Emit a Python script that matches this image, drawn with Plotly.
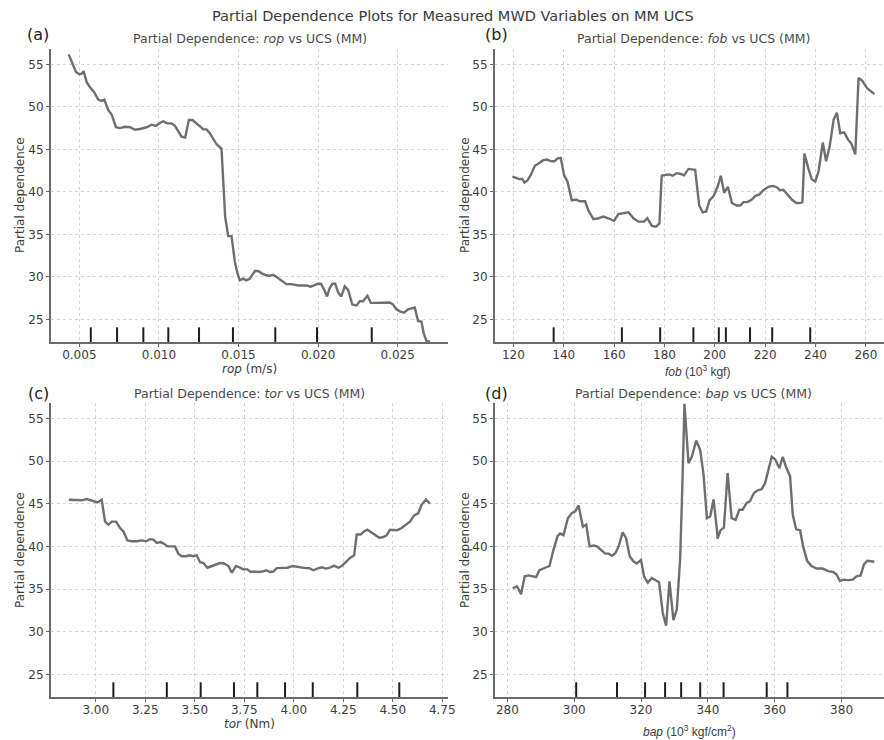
import plotly.graph_objects as go

# ---------------- data ----------------
rop_x = [0.00433, 0.00462, 0.00479, 0.00500, 0.00515, 0.00527, 0.00546, 0.00567, 0.00592, 0.00619,
         0.00640, 0.00657, 0.00682, 0.00703, 0.00730, 0.00755, 0.00787, 0.00818, 0.00849, 0.00881,
         0.00923, 0.00954, 0.00981, 0.01006, 0.01027, 0.01052, 0.01079, 0.01100, 0.01121, 0.01142,
         0.01165, 0.01188, 0.01211, 0.01236, 0.01262, 0.01278, 0.01299, 0.01320, 0.01341, 0.01362,
         0.01393, 0.01404, 0.01416, 0.01435, 0.01456, 0.01477, 0.01492, 0.01508, 0.01529, 0.01550,
         0.01571, 0.01603, 0.01623, 0.01644, 0.01672, 0.01697, 0.01718, 0.01739, 0.01759, 0.01780,
         0.01801, 0.01833, 0.01874, 0.01927, 0.01952, 0.01975, 0.02000, 0.02017, 0.02036, 0.02056,
         0.02073, 0.02090, 0.02107, 0.02128, 0.02146, 0.02167, 0.02188, 0.02215, 0.02241, 0.02262,
         0.02282, 0.02310, 0.02331, 0.02356, 0.02387, 0.02418, 0.02450, 0.02471, 0.02492, 0.02513,
         0.02540, 0.02565, 0.02607, 0.02628, 0.02649, 0.02663, 0.02680, 0.02703]
rop_pd = [56.17, 54.9, 54.1, 53.83, 53.9, 54.2, 52.9, 52.3, 51.75, 50.85,
          50.7, 50.85, 49.6, 49.1, 47.6, 47.5, 47.65, 47.6, 47.3, 47.4,
          47.6, 47.9, 47.75, 48.1, 48.3, 48.05, 48.05, 47.8, 47.1, 46.5,
          46.4, 48.45, 48.45, 48.1, 47.65, 47.35, 47.35, 46.9, 46.2, 45.6,
          45.1, 41.4, 37.1, 34.8, 34.8, 31.8, 30.5, 29.6, 29.8, 29.6,
          29.8, 30.7, 30.7, 30.45, 30.2, 30.15, 30.25, 30.0, 29.75, 29.4,
          29.15, 29.15, 29.0, 29.0, 28.85, 29.0, 29.2, 29.2, 28.6, 27.7,
          28.7, 29.2, 29.2, 28.1, 27.7, 28.9, 28.5, 26.75, 26.65, 27.15,
          27.15, 27.8, 26.95, 26.95, 26.95, 27.0, 27.0, 26.75, 26.2, 25.95,
          25.8, 26.2, 26.4, 24.8, 24.75, 23.4, 22.5, 22.4]
rop_deciles = [0.00572, 0.00737, 0.00902, 0.01059, 0.01252, 0.01465, 0.01731, 0.01993, 0.02337]

fob_x = [119.6, 121.1, 122.4, 123.4, 124.4, 125.6, 126.9, 128.6, 129.9, 131.7,
         133.2, 135.2, 136.3, 137.6, 138.8, 140.1, 141.5, 143.2, 144.9, 146.5,
         148.5, 149.8, 151.8, 153.8, 155.8, 157.7, 160.0, 161.7, 163.7, 165.7,
         167.7, 169.7, 171.9, 173.2, 175.0, 176.6, 178.0, 178.9, 180.3, 181.9,
         183.2, 184.9, 186.5, 187.8, 189.5, 191.3, 192.2, 193.8, 195.2, 196.6,
         197.9, 199.5, 201.1, 202.4, 203.7, 205.2, 206.8, 208.7, 210.1, 211.4,
         213.0, 214.7, 216.0, 217.7, 219.3, 221.3, 223.0, 224.6, 225.9, 227.2,
         228.9, 230.6, 232.3, 233.9, 234.8, 235.6, 237.2, 238.5, 239.9, 241.2,
         242.9, 244.2, 245.6, 247.2, 248.5, 249.8, 251.4, 252.8, 254.2, 255.8,
         257.1, 258.5, 260.5, 263.4]
fob_pd = [41.8, 41.6, 41.5, 41.55, 41.1, 41.35, 42.0, 43.1, 43.3, 43.7,
          43.8, 43.6, 43.6, 43.95, 44.0, 42.0, 41.2, 39.0, 39.1, 38.9,
          38.9, 37.8, 36.8, 36.9, 37.1, 36.9, 36.6, 37.4, 37.5, 37.6,
          36.9, 36.5, 36.5, 36.9, 36.0, 35.9, 36.3, 41.9, 42.0, 42.05,
          41.9, 42.2, 42.1, 41.95, 42.7, 42.6, 42.6, 38.4, 37.6, 37.7,
          39.0, 39.5, 40.6, 41.9, 39.9, 40.6, 38.7, 38.4, 38.4, 38.8,
          38.8, 39.1, 39.5, 39.7, 40.2, 40.6, 40.7, 40.55, 40.2, 40.25,
          39.7, 39.1, 38.7, 38.7, 38.8, 44.5, 42.7, 41.5, 41.2, 42.4,
          45.8, 43.6, 45.3, 48.5, 49.3, 46.9, 47.0, 46.2, 45.7, 44.4,
          53.4, 53.1, 52.2, 51.5]
fob_deciles = [136.0, 163.1, 178.3, 191.5, 201.6, 204.4, 214.0, 222.8, 237.9]

tor_x = [2.864, 2.887, 2.912, 2.929, 2.955, 2.971, 2.988, 3.008, 3.030, 3.047,
         3.064, 3.081, 3.103, 3.123, 3.140, 3.160, 3.182, 3.207, 3.232, 3.254,
         3.274, 3.291, 3.308, 3.328, 3.345, 3.362, 3.384, 3.400, 3.417, 3.434,
         3.456, 3.473, 3.493, 3.510, 3.527, 3.544, 3.564, 3.586, 3.606, 3.628,
         3.648, 3.670, 3.687, 3.708, 3.725, 3.745, 3.766, 3.782, 3.801, 3.821,
         3.843, 3.860, 3.880, 3.897, 3.914, 3.939, 3.968, 3.993, 4.018, 4.040,
         4.060, 4.079, 4.099, 4.119, 4.141, 4.163, 4.183, 4.203, 4.225, 4.242,
         4.264, 4.284, 4.305, 4.318, 4.338, 4.355, 4.372, 4.393, 4.410, 4.432,
         4.452, 4.469, 4.486, 4.506, 4.523, 4.545, 4.567, 4.587, 4.607, 4.629,
         4.646, 4.668, 4.688]
tor_pd = [45.47, 45.47, 45.47, 45.4, 45.55, 45.47, 45.3, 45.15, 45.47, 42.9,
          42.55, 42.9, 42.9, 42.15, 41.75, 40.7, 40.6, 40.6, 40.7, 40.6,
          40.85, 40.8, 40.4, 40.5, 40.3, 40.0, 40.0, 40.0, 39.15, 38.85,
          38.85, 38.95, 38.85, 38.95, 38.15, 38.05, 37.5, 37.7, 37.9, 38.05,
          38.0, 37.7, 36.9, 37.7, 37.55, 37.3, 37.3, 37.0, 37.05, 37.0,
          37.05, 37.2, 37.0, 37.05, 37.45, 37.5, 37.5, 37.7, 37.6, 37.6,
          37.45, 37.45, 37.2, 37.4, 37.55, 37.4, 37.5, 37.75, 37.5, 37.7,
          38.25, 38.65, 38.95, 41.4, 41.4, 41.75, 41.95, 41.6, 41.3, 41.0,
          41.1, 41.3, 41.95, 41.95, 41.9, 42.15, 42.55, 42.9, 43.6, 43.9,
          44.9, 45.5, 45.0]
tor_deciles = [3.089, 3.359, 3.530, 3.698, 3.816, 3.956, 4.096, 4.321, 4.533]

bap_x = [281.6, 282.9, 284.1, 285.2, 286.4, 287.9, 288.6, 289.6, 290.9, 292.6,
         293.8, 295.0, 295.8, 296.8, 298.1, 299.3, 300.3, 301.3, 302.6, 303.6,
         304.6, 305.8, 306.8, 308.0, 309.3, 310.3, 311.3, 312.3, 313.3, 314.5,
         315.5, 316.6, 317.7, 318.7, 320.0, 320.9, 322.0, 323.2, 324.2, 325.4,
         326.5, 327.5, 328.5, 329.7, 330.7, 331.7, 332.3, 333.0, 334.2, 335.2,
         336.5, 337.7, 338.7, 339.7, 340.7, 341.7, 342.7, 342.9, 343.8, 344.8,
         345.9, 347.1, 348.3, 349.4, 350.4, 351.6, 352.6, 353.8, 354.8, 356.1,
         357.1, 358.1, 359.1, 360.1, 361.4, 362.4, 363.4, 364.6, 365.4, 366.4,
         367.6, 368.5, 369.7, 371.0, 372.5, 374.3, 376.0, 377.5, 378.5, 379.5,
         380.7, 382.0, 383.3, 384.5, 385.7, 386.7, 387.7, 388.8, 389.8]
bap_pd = [35.1, 35.3, 34.4, 36.5, 36.6, 36.5, 36.4, 37.2, 37.4, 37.7,
          39.6, 41.2, 41.5, 41.3, 43.3, 43.9, 44.1, 44.8, 42.3, 42.55,
          40.0, 40.1, 40.0, 39.55, 39.15, 39.15, 38.9, 39.2, 40.0, 41.65,
          41.0, 38.85, 38.25, 38.0, 38.4, 36.5, 35.75, 36.3, 36.05, 35.8,
          32.2, 30.7, 35.9, 31.35, 32.6, 38.5, 46.25, 56.7, 49.75, 50.5,
          52.4, 51.3, 48.4, 43.3, 43.5, 45.5, 42.0, 40.9, 41.9, 42.2,
          48.6, 43.3, 43.1, 44.3, 44.3, 45.1, 45.3, 46.25, 46.55, 46.7,
          47.4, 49.0, 50.5, 50.2, 49.15, 50.5, 49.3, 48.2, 43.7, 42.0,
          41.9, 40.0, 38.3, 37.7, 37.4, 37.4, 37.1, 37.0, 36.7, 35.95,
          36.1, 36.05, 36.1, 36.5, 36.6, 37.9, 38.3, 38.25, 38.2]
bap_deciles = [300.6, 312.8, 321.2, 327.2, 332.0, 337.7, 344.7, 357.6, 363.8]

y_ticks = [25, 30, 35, 40, 45, 50, 55]
y_range = [22.35, 56.8]

panel_tags = ["(a)", "(b)", "(c)", "(d)"]
panel_titles = ["Partial Dependence: <i>rop</i> vs UCS (MM)",
                "Partial Dependence: <i>fob</i> vs UCS (MM)",
                "Partial Dependence: <i>tor</i> vs UCS (MM)",
                "Partial Dependence: <i>bap</i> vs UCS (MM)"]
x_titles = ["<i>rop</i> (m/s)",
            "<i>fob</i> (10<sup>3</sup> kgf)",
            "<i>tor</i> (Nm)",
            "<i>bap</i> (10<sup>3</sup> kgf/cm<sup>2</sup>)"]
main_title = "Partial Dependence Plots for Measured MWD Variables on MM UCS"

# ---------------- layout helpers ----------------
W, H = 884, 740
FONT = "DejaVu Sans, Verdana, sans-serif"
TXT = "#3d3d3d"


def px(x):
    return x / W


def py(y):
    return 1 - y / H


# axes boxes in pixels: (left, right, top, bottom)
boxes = [(51, 448, 49, 342), (495, 884, 49, 342),
         (51, 448, 403, 697), (495, 884, 403, 697)]
x_ranges = [[0.00322, 0.02816], [112.7, 267.2], [2.774, 4.779], [276.3, 392.7]]
x_ticks = [[0.005, 0.010, 0.015, 0.020, 0.025],
           [120, 140, 160, 180, 200, 220, 240, 260],
           [3.00, 3.25, 3.50, 3.75, 4.00, 4.25, 4.50, 4.75],
           [280, 300, 320, 340, 360, 380]]
tick_fmt = [".3f", "d", ".2f", "d"]

series = [(rop_x, rop_pd, rop_deciles), (fob_x, fob_pd, fob_deciles),
          (tor_x, tor_pd, tor_deciles), (bap_x, bap_pd, bap_deciles)]

fig = go.Figure()
shapes = []
annotations = []

for i, (xs, ys, dec) in enumerate(series):
    n = "" if i == 0 else str(i + 1)
    fig.add_trace(go.Scatter(x=xs, y=ys, mode="lines",
                             line=dict(color="#6f6f6f", width=2.4),
                             xaxis="x" + n, yaxis="y" + n, showlegend=False,
                             hoverinfo="x+y"))
    l, r, t, b = boxes[i]
    common = dict(showgrid=True, gridcolor="#d4d4d4", griddash="dot", gridwidth=1,
                  showline=True, linecolor="#6a6a6a", linewidth=2,
                  ticks="outside", ticklen=3, tickcolor="#6a6a6a", tickwidth=1,
                  tickfont=dict(family=FONT, size=12, color=TXT),
                  zeroline=False, automargin=False, fixedrange=True)
    fig.layout["xaxis" + n] = dict(domain=[px(l), px(r)], range=x_ranges[i],
                                   tickvals=x_ticks[i], tickformat=tick_fmt[i],
                                   ticklabelstandoff=-2,
                                   anchor="y" + n, **common)
    fig.layout["yaxis" + n] = dict(domain=[py(b), py(t)], range=y_range,
                                   tickvals=y_ticks, anchor="x" + n, **common)
    # decile rug along the bottom of each panel
    for d in dec:
        shapes.append(dict(type="line", xref="x" + n, yref="y" + n + " domain",
                           x0=d, x1=d, y0=0, y1=0.05,
                           line=dict(color="#1e1e1e", width=2)))

# titles, panel tags, axis titles
title_pos = [(249.5, 38), (693.5, 38), (249.5, 393), (693.5, 393)]
tag_pos = [(38, 35), (496, 35), (38, 393), (496, 393)]
xt_pos = [(249.5, 369), (697.5, 371), (249.5, 724), (689, 731)]
yt_pos = [(20, 195), (465, 195), (20, 550), (465, 550)]
xt_font = [FONT, "Liberation Sans, Arial, sans-serif", FONT, "Liberation Sans, Arial, sans-serif"]

for i in range(4):
    annotations.append(dict(text=panel_titles[i], x=px(title_pos[i][0]), y=py(title_pos[i][1]),
                            xref="paper", yref="paper", showarrow=False,
                            xanchor="center", yanchor="middle",
                            font=dict(family=FONT, size=12.5, color="#4a4a4a")))
    annotations.append(dict(text=panel_tags[i], x=px(tag_pos[i][0]), y=py(tag_pos[i][1]),
                            xref="paper", yref="paper", showarrow=False,
                            xanchor="center", yanchor="middle",
                            font=dict(family=FONT, size=16, color="#222222")))
    annotations.append(dict(text=x_titles[i], x=px(xt_pos[i][0]), y=py(xt_pos[i][1]),
                            xref="paper", yref="paper", showarrow=False,
                            xanchor="center", yanchor="middle",
                            font=dict(family=xt_font[i], size=12, color=TXT)))
    annotations.append(dict(text="Partial dependence", x=px(yt_pos[i][0]), y=py(yt_pos[i][1]),
                            xref="paper", yref="paper", showarrow=False, textangle=-90,
                            xanchor="center", yanchor="middle",
                            font=dict(family=FONT, size=12, color=TXT)))

annotations.append(dict(text=main_title, x=px(453), y=py(16), xref="paper", yref="paper",
                        showarrow=False, xanchor="center", yanchor="middle",
                        font=dict(family=FONT, size=14.5, color="#3a3a3a")))

fig.update_layout(width=W, height=H, margin=dict(l=0, r=0, t=0, b=0),
                  paper_bgcolor="white", plot_bgcolor="white",
                  shapes=shapes, annotations=annotations, showlegend=False)

fig.write_html("out.html", config={"displayModeBar": False})
